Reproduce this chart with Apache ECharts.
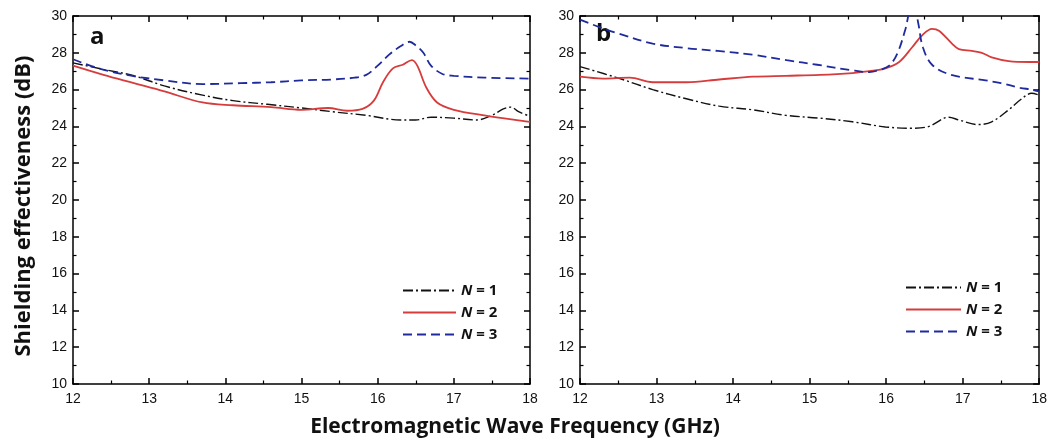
<!DOCTYPE html>
<html>
<head>
<meta charset="utf-8">
<script src="https://cdn.jsdelivr.net/npm/echarts@6/dist/echarts.min.js"></script>
<style>
  html, body { margin: 0; padding: 0; background: #fff; }
  #chart { width: 1050px; height: 446px; }
</style>
</head>
<body>
<div id="chart"></div>
<script>
// Panel a
var freqA1 = [12, 12.4, 12.8, 13.2, 13.7, 14.1, 14.55, 15.0, 15.4, 15.85, 16.3, 16.5, 16.7, 17.0, 17.3, 17.5, 17.65, 17.75, 17.85, 18];
var seA1 = [27.45, 27.1, 26.75, 26.2, 25.7, 25.4, 25.2, 25.0, 24.8, 24.6, 24.35, 24.35, 24.5, 24.45, 24.35, 24.6, 24.95, 25.05, 24.8, 24.55];
var freqA2 = [12, 12.4, 12.8, 13.2, 13.7, 14.1, 14.6, 15.0, 15.35, 15.6, 15.8, 15.95, 16.07, 16.2, 16.33, 16.45, 16.52, 16.64, 16.78, 17.0, 17.4, 17.9, 18];
var seA2 = [27.3, 26.8, 26.35, 25.9, 25.3, 25.15, 25.05, 24.9, 25.0, 24.85, 24.95, 25.4, 26.4, 27.15, 27.35, 27.6, 27.3, 26.1, 25.3, 24.9, 24.6, 24.3, 24.25];
var freqA3 = [12, 12.3, 12.7, 13.2, 13.7, 14.2, 14.6, 15.0, 15.4, 15.7, 15.85, 16.0, 16.15, 16.3, 16.42, 16.5, 16.6, 16.7, 16.85, 17.0, 17.4, 18];
var seA3 = [27.65, 27.2, 26.8, 26.5, 26.3, 26.35, 26.4, 26.5, 26.55, 26.65, 26.8, 27.3, 27.9, 28.35, 28.6, 28.4, 28.0, 27.3, 26.85, 26.75, 26.65, 26.6];

// Panel b
var freqB1 = [12, 12.52, 12.95, 13.39, 13.82, 14.26, 14.69, 15.13, 15.56, 15.99, 16.34, 16.56, 16.82, 16.95, 17.2, 17.38, 17.6, 17.77, 17.9, 18];
var seB1 = [27.25, 26.6, 26.0, 25.5, 25.1, 24.9, 24.6, 24.45, 24.25, 23.97, 23.9, 24.0, 24.5, 24.35, 24.1, 24.25, 24.9, 25.5, 25.8, 25.7];
var freqB2 = [12, 12.3, 12.65, 12.95, 13.39, 13.82, 14.26, 14.69, 15.13, 15.56, 15.78, 15.99, 16.17, 16.34, 16.47, 16.6, 16.69, 16.86, 16.95, 17.12, 17.25, 17.38, 17.6, 17.88, 18];
var seB2 = [26.7, 26.6, 26.65, 26.4, 26.4, 26.55, 26.7, 26.75, 26.8, 26.9, 27.0, 27.15, 27.5, 28.3, 28.95, 29.3, 29.2, 28.5, 28.2, 28.1, 28.0, 27.75, 27.55, 27.5, 27.5];
var freqB3 = [12, 12.25, 12.5, 12.95, 13.4, 13.8, 14.25, 14.7, 15.1, 15.55, 15.78, 15.9, 16.04, 16.15, 16.25, 16.33, 16.38, 16.42, 16.48, 16.6, 16.85, 17.3, 17.5, 17.75, 17.9, 18];
var seB3 = [29.8, 29.4, 29.05, 28.5, 28.25, 28.1, 27.9, 27.6, 27.35, 27.05, 26.95, 27.05, 27.3, 28.0, 29.25, 30.4, 30.3, 29.6, 28.3, 27.35, 26.8, 26.5, 26.35, 26.1, 26.0, 25.9];

var names = ['N = 1', 'N = 2', 'N = 3'];

function zip(xs, ys) {
    return xs.map(function (x, i) { return [x, ys[i]]; });
}

var chart = echarts.init(document.getElementById('chart'));

var axisLineStyle = { color: '#000', width: 1.5 };
var labelStyle = { color: '#111', fontSize: 14, fontFamily: 'Liberation Sans' };

function xAxes(grid) {
    var base = {
        type: 'value', gridIndex: grid, min: 12, max: 18, interval: 1,
        axisLine: { show: true, onZero: false, lineStyle: axisLineStyle },
        axisTick: { show: true, inside: true, length: 6, lineStyle: axisLineStyle },
        minorTick: { show: true, splitNumber: 2, length: 3.5, lineStyle: { color: '#000', width: 1.2 } },
        splitLine: { show: false }
    };
    var bottom = Object.assign({}, base, { position: 'bottom', axisLabel: Object.assign({ margin: 8 }, labelStyle) });
    var top = Object.assign({}, base, { position: 'top', axisLabel: { show: false } });
    return [bottom, top];
}

function yAxes(grid) {
    var base = {
        type: 'value', gridIndex: grid, min: 10, max: 30, interval: 2,
        axisLine: { show: true, onZero: false, lineStyle: axisLineStyle },
        axisTick: { show: true, inside: true, length: 6, lineStyle: axisLineStyle },
        minorTick: { show: true, splitNumber: 2, length: 3.5, lineStyle: { color: '#000', width: 1.2 } },
        splitLine: { show: false }
    };
    var left = Object.assign({}, base, { position: 'left', axisLabel: Object.assign({ margin: 6 }, labelStyle) });
    var right = Object.assign({}, base, { position: 'right', axisLabel: { show: false } });
    return [left, right];
}

var styles = [
    { color: '#111', type: [10, 3, 2, 3], width: 1.4 },
    { color: '#d63c3c', type: 'solid', width: 1.8 },
    { color: '#1f2a9c', type: [9, 5], width: 1.8 }
];

function line(name, data, axisIdx, k) {
    return {
        name: name, type: 'line', data: data,
        xAxisIndex: axisIdx, yAxisIndex: axisIdx,
        symbol: 'none', smooth: 0.35, clip: true,
        lineStyle: styles[k], itemStyle: { color: styles[k].color }
    };
}

var legendText = {
    fontSize: 15, fontWeight: 'bold', fontFamily: 'Open Sans', color: '#111',
    rich: {
        it: { fontSize: 15, fontWeight: 'bold', fontStyle: 'italic', fontFamily: 'Open Sans', color: '#111' },
        rg: { fontSize: 15, fontWeight: 'bold', fontFamily: 'Open Sans', color: '#111' }
    }
};
function legendFmt(n) { return '{it|N}{rg|' + n.slice(1) + '}'; }

var option = {
    animation: false,
    grid: [
        { left: 73, right: 520, top: 16, bottom: 62 },
        { left: 580, right: 9, top: 16, bottom: 62 }
    ],
    xAxis: xAxes(0).concat(xAxes(1)),
    yAxis: yAxes(0).concat(yAxes(1)),
    legend: [
        {
            data: names, orient: 'vertical', left: 397, top: 278,
            itemWidth: 53, itemHeight: 14, itemGap: 7,
            itemStyle: { opacity: 0 },
            formatter: legendFmt, textStyle: legendText
        },
        {
            data: names, orient: 'vertical', left: 900, top: 275,
            itemWidth: 55, itemHeight: 14, itemGap: 7,
            itemStyle: { opacity: 0 },
            formatter: legendFmt, textStyle: legendText
        }
    ],
    series: [
        line(names[0], zip(freqA1, seA1), 0, 0),
        line(names[1], zip(freqA2, seA2), 0, 1),
        line(names[2], zip(freqA3, seA3), 0, 2),
        line(names[0], zip(freqB1, seB1), 2, 0),
        line(names[1], zip(freqB2, seB2), 2, 1),
        line(names[2], zip(freqB3, seB3), 2, 2)
    ],
    graphic: [
        { type: 'text', x: 90, y: 25, style: { text: 'a', font: 'bold 24px "Open Sans"', fill: '#111' } },
        { type: 'text', x: 596, y: 22, style: { text: 'b', font: 'bold 24px "Open Sans"', fill: '#111' } },
        { type: 'text', x: 515, y: 427, style: { text: 'Electromagnetic Wave Frequency (GHz)', font: 'bold 21px "Open Sans"', fill: '#111', textAlign: 'center', textVerticalAlign: 'middle' } },
        { type: 'text', x: 24, y: 206, rotation: Math.PI / 2, style: { text: 'Shielding effectiveness (dB)', font: 'bold 22px "Open Sans"', fill: '#111', textAlign: 'center', textVerticalAlign: 'middle' } }
    ]
};

chart.setOption(option);
</script>
</body>
</html>
